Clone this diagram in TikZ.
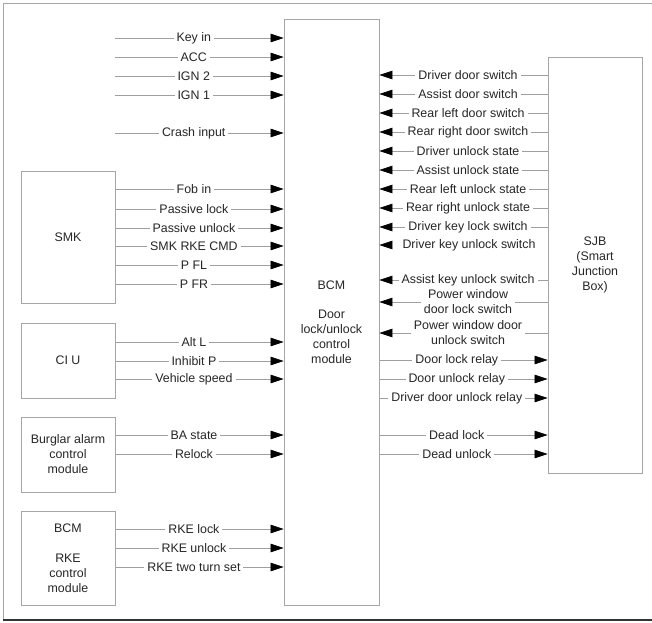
\documentclass[tikz,border=0pt]{standalone}
\usepackage{fontspec}
\setmainfont{Liberation Sans}
\usetikzlibrary{arrows.meta, positioning}

\begin{document}
\begin{tikzpicture}[x=1pt, y=-1pt,
    txt/.style={font=\fontsize{12.4}{15}\selectfont, text=black!85, align=center, inner sep=0pt},
    box/.style={txt, draw=gray!70, line width=0.8pt, minimum width=94pt},
    sig/.style={gray!75, line width=0.7pt, -{Triangle[length=13pt, width=8.5pt, color=black]}},
    lbl/.style={txt, fill=white, inner xsep=3pt, inner ysep=1pt}]
    \useasboundingbox (0,0) rectangle (652,622);

    % Frame
    \draw[gray!70, line width=0.8pt] (652,3) -- (3,3) -- (3,620);
    \draw[black!80, line width=1.6pt] (3,620) -- (652,620);

    % Modules
    \node[box, minimum width=95pt, minimum height=586pt] (bcm) at (331.5,312) {};
    \node[txt] (bcmtxt) at ([yshift=-10pt]bcm.center) {BCM\\[14pt]Door\\lock/unlock\\control\\module};
    \node[box, minimum height=416pt] (sjb) at (595,265) {SJB\\(Smart\\Junction\\Box)};
    \node[box, minimum height=132pt] (smk) at (68,237) {SMK};
    \node[box, minimum height=75pt] (ciu) at (68,360.5) {CI U};
    \node[box, minimum height=75pt] (bacm) at (68,454.5) {Burglar alarm\\control\\module};
    \node[box, minimum height=94pt] (rke) at (68,558) {BCM\\[15pt]RKE\\control\\module};

    % Inputs without source module
    \coordinate (in) at (115,0);
    \foreach \y/\t in {38/Key in, 57/ACC, 76/IGN 2, 95/IGN 1, 133/Crash input}
    \draw[sig] (in |- 0,\y) -- node[lbl, pos=.467] {\t} (bcm.west |- 0,\y);

    % Inputs from the left modules
    \foreach \y/\t in {189/Fob in, 209/Passive lock, 228/Passive unlock, 246/SMK RKE CMD, 265/P FL, 284/P FR}
    \draw[sig] (smk.east |- 0,\y) -- node[lbl, pos=.467] {\t} (bcm.west |- 0,\y);
    \foreach \y/\t in {342/Alt L, 361/Inhibit P, 379/Vehicle speed}
    \draw[sig] (ciu.east |- 0,\y) -- node[lbl, pos=.467] {\t} (bcm.west |- 0,\y);
    \foreach \y/\t in {435/BA state, 454/Relock}
    \draw[sig] (bacm.east |- 0,\y) -- node[lbl, pos=.467] {\t} (bcm.west |- 0,\y);
    \foreach \y/\t in {529/RKE lock, 548/RKE unlock, 567/RKE two turn set}
    \draw[sig] (rke.east |- 0,\y) -- node[lbl, pos=.467] {\t} (bcm.west |- 0,\y);

    % Inputs from SJB
    \foreach \y/\t in {75/Driver door switch, 94/Assist door switch, 113/Rear left door switch,
        132/Rear right door switch, 151/Driver unlock state, 170/Assist unlock state,
        189/Rear left unlock state, 208/Rear right unlock state, 227/Driver key lock switch,
        280/Assist key unlock switch, 302/{Power window\\door lock switch},
        333/{Power window door\\unlock switch}}
    \draw[sig] (sjb.west |- 0,\y) -- node[lbl, pos=.473] {\t} (bcm.east |- 0,\y);
    \node[lbl] (dkus) at (469,245) {Driver key unlock switch};
    \draw[sig] ([xshift=-9pt]dkus.west) -- (bcm.east |- dkus);

    % Outputs to SJB
    \foreach \y/\t in {360/Door lock relay, 379/Door unlock relay, 398/Driver door unlock relay,
        435/Dead lock, 454/Dead unlock}
    \draw[sig] (bcm.east |- 0,\y) -- node[lbl, pos=.46] {\t} (sjb.west |- 0,\y);
\end{tikzpicture}
\end{document}
